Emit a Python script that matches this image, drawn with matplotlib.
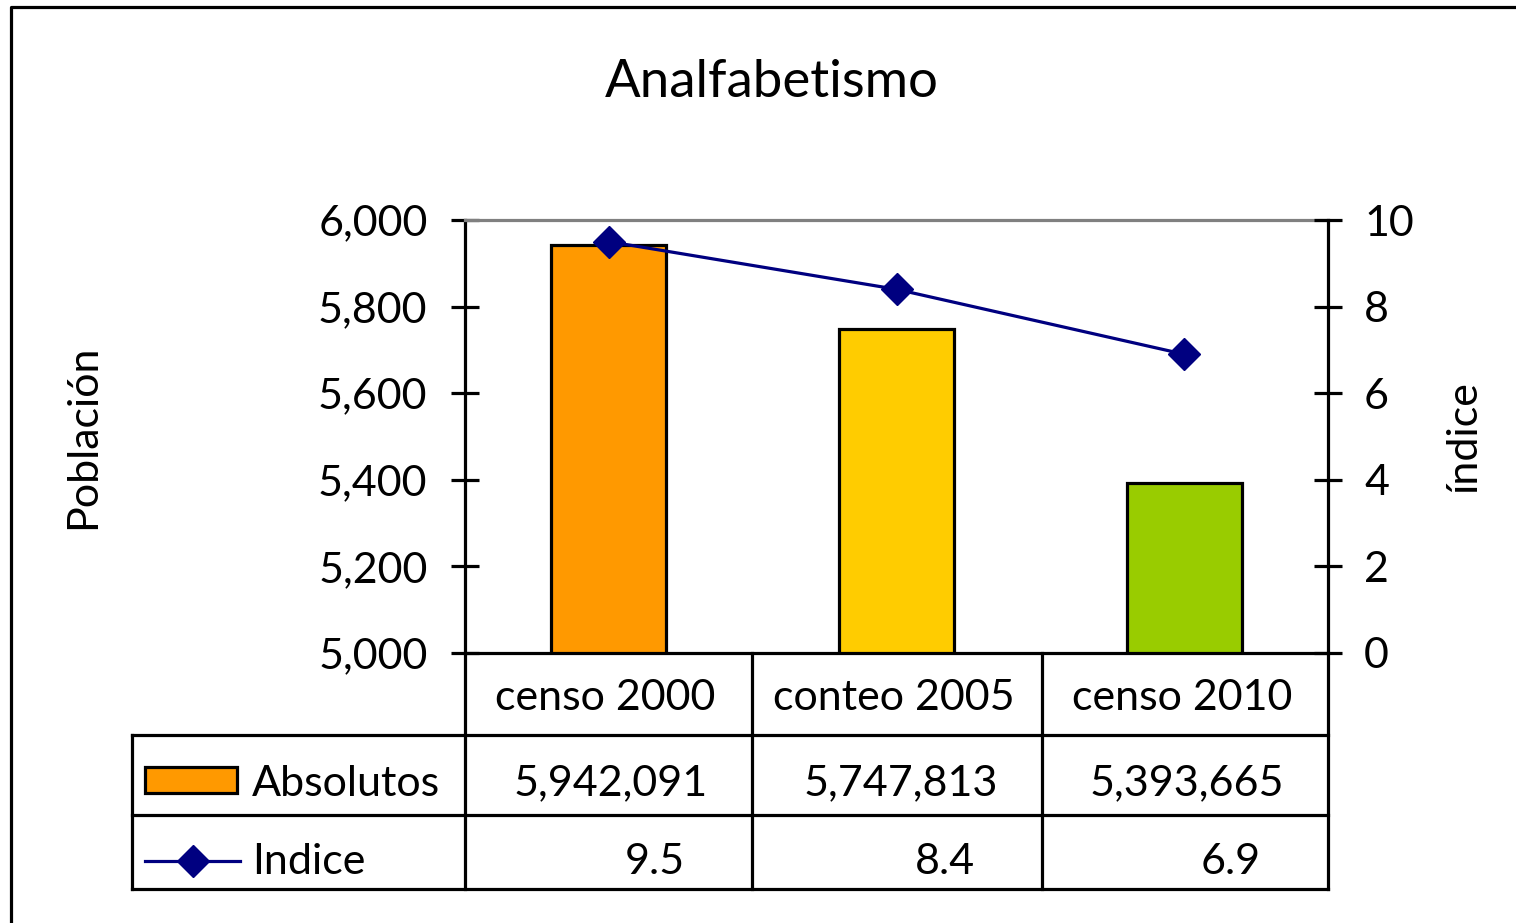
import numpy as np
import matplotlib
matplotlib.use("Agg")
import matplotlib.pyplot as plt
from matplotlib.patches import Rectangle
from matplotlib.lines import Line2D

# datos
categorias = ["censo 2000", "conteo 2005", "censo 2010"]
absolutos = [5942091, 5747813, 5393665]
indice = [9.5, 8.4, 6.9]
colores = ["#FF9900", "#FFCC00", "#99CC00"]
yticks_izq = [5000, 5200, 5400, 5600, 5800, 6000]
yticks_der = [0, 2, 4, 6, 8, 10]

plt.rcParams['font.family'] = ['Lato', 'DejaVu Sans']
fs = 31
lw = 2.3

W, H = 1516, 923
fig = plt.figure(figsize=(W / 100, H / 100), dpi=100)

# ejes principales (en pixeles de la figura)
x0, x1, ytop, ybot = 465, 1328, 220, 653
ax = fig.add_axes([x0 / W, (H - ybot) / H, (x1 - x0) / W, (ybot - ytop) / H])
xs = np.arange(len(categorias))
ax.bar(xs, np.array(absolutos) / 1000, width=0.4, color=colores,
       edgecolor="black", linewidth=lw, zorder=2)
ax.set_xlim(-0.5, 2.5)
ax.set_ylim(5000, 6000)
ax.set_yticks(yticks_izq)
ax.set_yticklabels([f"{v:,}" for v in yticks_izq], fontsize=fs)
ax.set_xticks([])
ax.tick_params(axis="y", direction="inout", length=20, width=lw, pad=17)
for s in ["left", "bottom"]:
    ax.spines[s].set_linewidth(lw)
ax.spines["right"].set_visible(False)
ax.spines["top"].set_color("#808080")
ax.spines["top"].set_linewidth(lw)
ax.set_ylabel("Población", fontsize=fs)

ax2 = ax.twinx()
ax2.plot(xs, indice, color="#000080", lw=lw, marker="D", markersize=16, zorder=3)
ax2.set_ylim(0, 10)
ax2.set_yticks(yticks_der)
ax2.tick_params(axis="y", direction="inout", length=20, width=lw, pad=16, labelsize=fs)
ax2.spines["right"].set_linewidth(lw)
for s in ["left", "top", "bottom"]:
    ax2.spines[s].set_visible(False)
ax2.set_ylabel("índice", fontsize=fs)
ax2.yaxis.set_label_coords(1.135, 0.5)
ax.yaxis.set_label_coords(-0.42, 0.5)

# capa superpuesta para la tabla, titulo y marco
ov = fig.add_axes([0, 0, 1, 1], zorder=5)
ov.set_xlim(0, W)
ov.set_ylim(H, 0)
ov.axis("off")
ov.patch.set_alpha(0)

ov.text(772, 78, "Analfabetismo", fontsize=38, ha="center", va="center_baseline")

# marco exterior
ov.add_line(Line2D([11, 11, W], [H, 7, 7], color="black", lw=lw))

cols = [465, 752, 1042, 1328]
filas = [653, 735, 815, 889]
tl = 2.3
# lineas horizontales
for f in filas[1:]:
    ov.add_line(Line2D([132, 1328], [f, f], color="black", lw=tl))
# lineas verticales
for c in cols:
    ov.add_line(Line2D([c, c], [653, 889], color="black", lw=tl))
ov.add_line(Line2D([132, 132], [735, 889], color="black", lw=tl))

for i, cat in enumerate(categorias):
    cx = (cols[i] + cols[i + 1]) / 2
    ov.text(cx - 3, 694, cat, fontsize=fs, ha="center", va="center_baseline")
    ov.text(cols[i + 1] - 44, 780, f"{absolutos[i]:,}",
            fontsize=fs, ha="right", va="center_baseline")
    ov.text(cols[i + 1] - 67, 858, f"{indice[i]:.1f}",
            fontsize=fs, ha="right", va="center_baseline")

# claves de leyenda
ov.add_patch(Rectangle((145, 767), 92, 26, facecolor=colores[0], edgecolor="black", lw=tl))
ov.text(252, 781, "Absolutos", fontsize=fs, ha="left", va="center_baseline")
ov.add_line(Line2D([145, 240], [861, 861], color="#000080", lw=lw))
ov.add_line(Line2D([193], [861], color="#000080", marker="D", markersize=16, lw=0))
ov.text(252, 859, "Indice", fontsize=fs, ha="left", va="center_baseline")

fig.savefig("out.png", dpi=100)
